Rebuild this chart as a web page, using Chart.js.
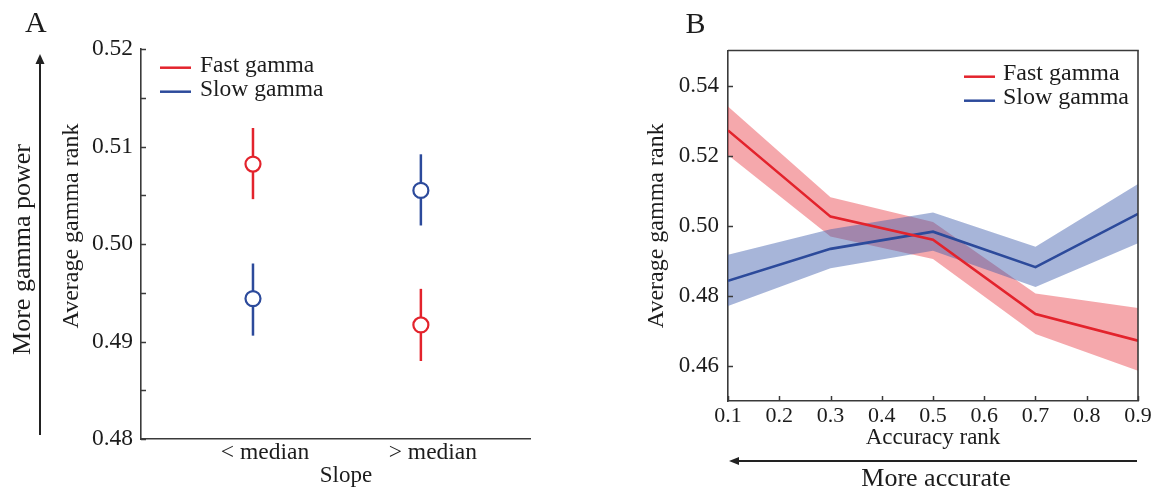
<!DOCTYPE html>
<html><head><meta charset="utf-8">
<script src="https://cdn.jsdelivr.net/npm/chart.js@4.4.1/dist/chart.umd.min.js"></script>
<style>
html,body{margin:0;padding:0;background:#fff;}
#wrap{position:relative;width:1163px;height:491px;overflow:hidden;background:#fff;}
#ca{position:absolute;left:0;top:0;}
#cb{position:absolute;left:580px;top:0;}
</style></head><body>
<div id="wrap"><canvas id="ca" width="580" height="491"></canvas><canvas id="cb" width="583" height="491"></canvas></div>
<script>
// ---------- Panel A data ----------
const categoriesA = ['< median', '> median'];
const xPosA = [1, 2];
const fastA = [0.5082, 0.4917];
const fastLowA = [0.5046, 0.4880];
const fastHighA = [0.5119, 0.4954];
const slowA = [0.4944, 0.5055];
const slowLowA = [0.4906, 0.5019];
const slowHighA = [0.4980, 0.5092];
const yTicksA = [0.48, 0.485, 0.49, 0.495, 0.50, 0.505, 0.51, 0.515, 0.52];
const yLabelsA = [0.48, 0.49, 0.50, 0.51, 0.52];
const xRangeA = [0.333, 2.65];

// ---------- Panel B data ----------
const xB = [0.1, 0.3, 0.5, 0.7, 0.9];
const fastB = [0.5272, 0.5026, 0.4960, 0.4748, 0.4672];
const fastUpperB = [0.5340, 0.5081, 0.5011, 0.4807, 0.4765];
const fastLowerB = [0.5202, 0.4969, 0.4905, 0.4691, 0.4586];
const slowB = [0.4843, 0.4934, 0.4983, 0.4882, 0.5034];
const slowUpperB = [0.4917, 0.4990, 0.5038, 0.4940, 0.5119];
const slowLowerB = [0.4771, 0.4879, 0.4929, 0.4825, 0.4950];
const xTicksB = [0.1, 0.2, 0.3, 0.4, 0.5, 0.6, 0.7, 0.8, 0.9];
const yTicksB = [0.46, 0.48, 0.50, 0.52, 0.54];

// ---------- styles ----------
const SERIF = "'Liberation Serif','Times New Roman',serif";
const RED = '#e3232c';
const BLUE = '#2c4a9b';
const RED_BAND = 'rgba(232,48,58,0.42)';
const BLUE_BAND = 'rgba(60,90,170,0.45)';
const AX = '#3a3a3a';
const TXT = '#1c1c1c';

function pts(xs, ys){ return xs.map((x,i)=>({x:x, y:ys[i]})); }

function txt(ctx, s, x, y, size, align, rot){
  ctx.save();
  ctx.fillStyle = TXT;
  ctx.font = size + 'px ' + SERIF;
  ctx.textAlign = align || 'left';
  ctx.textBaseline = 'alphabetic';
  ctx.translate(x, y);
  if (rot) ctx.rotate(rot);
  ctx.fillText(s, 0, 0);
  ctx.restore();
}
function line(ctx, x1, y1, x2, y2, color, w){
  ctx.save(); ctx.strokeStyle = color; ctx.lineWidth = w;
  ctx.beginPath(); ctx.moveTo(x1,y1); ctx.lineTo(x2,y2); ctx.stroke(); ctx.restore();
}
function tri(ctx, pts, color){
  ctx.save(); ctx.fillStyle = color; ctx.beginPath();
  ctx.moveTo(pts[0][0],pts[0][1]); ctx.lineTo(pts[1][0],pts[1][1]); ctx.lineTo(pts[2][0],pts[2][1]);
  ctx.closePath(); ctx.fill(); ctx.restore();
}
function legend(ctx, items, x0, x1, tx, y0, dy, boff, size){
  items.forEach((it,i)=>{
    const y = y0 + i*dy;
    line(ctx, x0, y, x1, y, it.color, 2.5);
    txt(ctx, it.label, tx, y + boff, size, 'left');
  });
}

const errorBars = {
  id:'errorBars',
  beforeDatasetsDraw(chart){
    const {ctx, scales:{x,y}} = chart;
    chart.data.datasets.forEach(ds=>{
      ds.data.forEach((p,i)=>{
        const px = x.getPixelForValue(p.x);
        line(ctx, px, y.getPixelForValue(ds.errLow[i]), px, y.getPixelForValue(ds.errHigh[i]), ds.borderColor, 2.5);
      });
    });
  }
};

const decorA = {
  id:'decorA',
  afterDraw(chart){
    const {ctx, chartArea:a, scales:{y}} = chart;
    // inward ticks
    y.ticks.forEach(t=>{
      const py = Math.round(y.getPixelForValue(t.value)) + 0.5;
      line(ctx, a.left, py, a.left+5, py, AX, 1.5);
    });
    txt(ctx, 'A', 25, 32, 30, 'left');
    // arrow
    line(ctx, 40, 435, 40, 60, '#222', 2);
    tri(ctx, [[40,54],[35.5,64],[44.5,64]], '#222');
    txt(ctx, 'More gamma power', 30, 249.5, 26, 'center', -Math.PI/2);
    txt(ctx, 'Average gamma rank', 78, 226, 24, 'center', -Math.PI/2);
    txt(ctx, 'Slope', 346, 482, 23, 'center');
    legend(ctx, chart.data.datasets.map(d=>({label:d.label, color:d.borderColor})), 160, 191, 200, 67.7, 24, 3.8, 23.5);
  }
};

new Chart(document.getElementById('ca'), {
  type:'scatter',
  data:{datasets:[
    {label:'Fast gamma', data:pts(xPosA, fastA), errLow:fastLowA, errHigh:fastHighA,
     borderColor:RED, backgroundColor:'#fff', pointRadius:7.5, pointBorderWidth:2.2, showLine:false},
    {label:'Slow gamma', data:pts(xPosA, slowA), errLow:slowLowA, errHigh:slowHighA,
     borderColor:BLUE, backgroundColor:'#fff', pointRadius:7.5, pointBorderWidth:2.2, showLine:false}
  ]},
  options:{
    responsive:false, animation:false, events:[],
    layout:{padding:{left:0,right:50,top:49,bottom:0}},
    plugins:{legend:{display:false}, tooltip:{enabled:false}},
    scales:{
      x:{type:'linear', min:xRangeA[0], max:xRangeA[1],
         afterBuildTicks:s=>{s.ticks = xPosA.map(v=>({value:v}));},
         afterFit:s=>{s.height = 52;},
         grid:{display:false, drawTicks:false},
         border:{display:true, color:AX, width:1.6},
         ticks:{padding:0, labelOffset:12, autoSkip:false, maxRotation:0, color:TXT,
                font:{family:SERIF, size:23.5}, callback:(v,i)=>categoriesA[i]}},
      y:{type:'linear', min:0.48, max:0.52,
         afterBuildTicks:s=>{s.ticks = yTicksA.map(v=>({value:v}));},
         afterFit:s=>{s.width = 141;},
         grid:{display:false, drawTicks:false},
         border:{display:true, color:AX, width:1.6},
         ticks:{padding:8, autoSkip:false, color:TXT, font:{family:SERIF, size:23.5},
                callback:v=> yLabelsA.some(l=>Math.abs(l-v)<1e-9) ? v.toFixed(2) : ''}}
    }
  },
  plugins:[errorBars, decorA]
});

const decorB = {
  id:'decorB',
  afterDraw(chart){
    const {ctx, chartArea:a, scales:{x,y}} = chart;
    line(ctx, a.left, a.top, a.right+0.8, a.top, AX, 1.6);
    line(ctx, a.right, a.top, a.right, a.bottom, AX, 1.6);
    y.ticks.forEach(t=>{
      const py = Math.round(y.getPixelForValue(t.value)) + 0.5;
      line(ctx, a.left, py, a.left+5, py, AX, 1.5);
    });
    x.ticks.forEach(t=>{
      const px = Math.round(x.getPixelForValue(t.value)) + 0.5;
      line(ctx, px, a.bottom, px, a.bottom-5, AX, 1.5);
    });
    txt(ctx, 'B', 105.5, 32.5, 30, 'left');
    const items = chart.data.datasets.filter(d=>d.isMean).map(d=>({label:d.label, color:d.borderColor}));
    legend(ctx, items, 384, 415, 423, 76.7, 24, 3.5, 24);
    // arrow
    line(ctx, 157, 461, 557, 461, '#222', 2);
    tri(ctx, [[149,461],[159,457],[159,465]], '#222');
    txt(ctx, 'More accurate', 356, 486, 26, 'center');
  }
};

const bandOpts = {borderWidth:0, borderColor:'rgba(0,0,0,0)', pointRadius:0, tension:0};
new Chart(document.getElementById('cb'), {
  type:'line',
  data:{datasets:[
    Object.assign({label:'Slow gamma upper', data:pts(xB, slowUpperB), fill:'+1', backgroundColor:BLUE_BAND}, bandOpts),
    Object.assign({label:'Slow gamma lower', data:pts(xB, slowLowerB), fill:false}, bandOpts),
    Object.assign({label:'Fast gamma upper', data:pts(xB, fastUpperB), fill:'+1', backgroundColor:RED_BAND}, bandOpts),
    Object.assign({label:'Fast gamma lower', data:pts(xB, fastLowerB), fill:false}, bandOpts),
    {label:'Fast gamma', isMean:true, data:pts(xB, fastB), borderColor:RED, borderWidth:2.6, pointRadius:0, fill:false, tension:0},
    {label:'Slow gamma', isMean:true, data:pts(xB, slowB), borderColor:BLUE, borderWidth:2.6, pointRadius:0, fill:false, tension:0}
  ]},
  options:{
    responsive:false, animation:false, events:[],
    layout:{padding:{left:0,right:25,top:50.5,bottom:0}},
    plugins:{legend:{display:false}, tooltip:{enabled:false}, filler:{drawTime:'beforeDatasetsDraw'}},
    scales:{
      x:{type:'linear', min:0.1, max:0.9,
         afterBuildTicks:s=>{s.ticks = xTicksB.map(v=>({value:v}));},
         afterFit:s=>{s.height = 90;},
         grid:{display:false, drawTicks:false},
         border:{display:true, color:AX, width:1.6},
         ticks:{padding:2, autoSkip:false, maxRotation:0, color:TXT, font:{family:SERIF, size:22},
                callback:v=>v.toFixed(1)},
         title:{display:true, text:'Accuracy rank', color:TXT, font:{family:SERIF, size:23},
                padding:{top:0, bottom:39.5}}},
      y:{type:'linear', min:0.45, max:0.55,
         afterBuildTicks:s=>{s.ticks = yTicksB.map(v=>({value:v}));},
         afterFit:s=>{s.width = 148;},
         grid:{display:false, drawTicks:false},
         border:{display:true, color:AX, width:1.6},
         ticks:{padding:9, autoSkip:false, color:TXT, font:{family:SERIF, size:23},
                callback:v=>v.toFixed(2)},
         title:{display:true, text:'Average gamma rank', color:TXT, font:{family:SERIF, size:24},
                padding:{top:62.5, bottom:0}}}
    }
  },
  plugins:[decorB]
});
</script>
</body></html>
